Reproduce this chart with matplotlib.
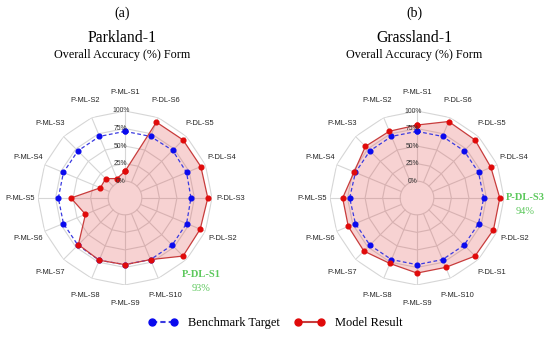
import numpy as np
import matplotlib
matplotlib.use("Agg")
import matplotlib.pyplot as plt
from matplotlib.lines import Line2D

# clockwise from the top
categories = ["P-ML-S1", "P-DL-S6", "P-DL-S5", "P-DL-S4", "P-DL-S3", "P-DL-S2",
              "P-DL-S1", "P-ML-S10", "P-ML-S9", "P-ML-S8", "P-ML-S7", "P-ML-S6",
              "P-ML-S5", "P-ML-S4", "P-ML-S3", "P-ML-S2"]

park_model = [14, 93, 93, 93, 94, 92, 93, 71, 71, 72, 70, 37, 53, 14, 15, 6]
park_bench = [71, 71, 72, 71, 70, 71, 71, 71, 71, 72, 71, 71, 71, 71, 71, 71]

grass_model = [80, 94, 93, 90, 94, 94, 93, 83, 83, 77, 83, 82, 82, 73, 80, 79]
grass_bench = [71, 71, 71, 71, 71, 71, 71, 71, 71, 71, 71, 71, 72, 71, 71, 71]

rticks = [0, 25, 50, 75, 100]

panels = [
    ("(a)", "Parkland-1", park_model, park_bench, "P-DL-S1", "93%"),
    ("(b)", "Grassland-1", grass_model, grass_bench, "P-DL-S3", "94%"),
]

SERIF = "Liberation Serif"
SANS = "Liberation Sans"
GREEN = "#5cc85c"
RED_M = "#e00a0a"
RED_L = "#c83c3c"
BLUE_M = "#0a0aee"
BLUE_L = "#3a3ae0"
GRID = "#d6d6d6"

W, H = 550, 345
fig = plt.figure(figsize=(W / 100, H / 100), dpi=100)

centers = [(125, 198), (417, 198)]
R = 87
n = len(categories)
theta = np.arange(n) * 2 * np.pi / n
tc = np.append(theta, theta[0])

for (cx, cy), (tag, name, model, bench, hl, hlval) in zip(centers, panels):
    ax = fig.add_axes([(cx - R) / W, (H - cy - R) / H, 2 * R / W, 2 * R / H],
                      projection="polar")
    ax.set_theta_zero_location("N")
    ax.set_theta_direction(-1)
    ax.set_ylim(-24, 100)   # leaves a hole in the middle
    ax.grid(False)
    ax.set_xticks([])
    ax.set_yticks([])
    for sp in ax.spines.values():
        sp.set_visible(False)
    ax.patch.set_alpha(0)

    # polygon grid
    for v in rticks[1:]:
        ax.plot(tc, [v] * (n + 1), color=GRID, lw=0.8, zorder=1)
    circ = np.linspace(0, 2 * np.pi, 200)
    ax.plot(circ, np.zeros_like(circ), color=GRID, lw=0.8, zorder=1)
    for t in theta:
        ax.plot([t, t], [0, 100], color=GRID, lw=0.8, zorder=1)

    m = np.append(model, model[0])
    b = np.append(bench, bench[0])
    ax.fill(tc, m, color="#dc3232", alpha=0.22, lw=0, zorder=2)
    ax.plot(tc, b, color=BLUE_L, lw=0.9, ls=(0, (3, 2)), zorder=3)
    ax.plot(tc, b, ls="none", marker="o", ms=3.4, color=BLUE_M, zorder=4)
    ax.plot(tc, m, color=RED_L, lw=0.9, zorder=5, clip_on=False)
    ax.plot(tc, m, ls="none", marker="o", ms=3.4, color=RED_M, zorder=6,
            clip_on=False)

    for v in rticks:
        ax.annotate(f"{v}%", xy=(0, v), xytext=(-3, 0), textcoords="offset points",
                    ha="center", va="center", fontsize=4.9, family=SANS,
                    color="#333333", zorder=7, annotation_clip=False)

    for t, lab in zip(theta, categories):
        if lab == hl:
            ax.text(t, 130, lab, ha="center", va="center", fontsize=7.6,
                    family=SERIF, weight="bold", color=GREEN, clip_on=False)
            ax.annotate(hlval, xy=(t, 130), xytext=(0, -10), textcoords="offset points",
                        ha="center", va="center", fontsize=7.4, family=SERIF,
                        color=GREEN, annotation_clip=False)
        else:
            ax.text(t, 126, lab, ha="center", va="center", fontsize=5.4,
                    family=SANS, color="#222222", clip_on=False)

    fig.text(cx / W - 0.005, 1 - 13 / H, tag, ha="center", va="center",
             fontsize=10, family=SERIF)
    fig.text(cx / W - 0.005, 1 - 38 / H, name, ha="center", va="center",
             fontsize=11.3, family=SERIF)
    fig.text(cx / W - 0.005, 1 - 55 / H, "Overall Accuracy (%) Form", ha="center",
             va="center", fontsize=8.7, family=SERIF)

handles = [
    Line2D([], [], color=BLUE_L, ls=(0, (2.5, 1.5)), lw=1.5, marker="o", ms=5,
           markerfacecolor=BLUE_M, markeredgecolor=BLUE_M),
    Line2D([], [], color=RED_L, lw=1.5, marker="o", ms=5,
           markerfacecolor=RED_M, markeredgecolor=RED_M),
]
fig.legend(handles, ["Benchmark Target", "Model Result"], loc="center",
           bbox_to_anchor=(0.5, 22 / H), ncol=2, frameon=False, numpoints=2,
           handlelength=2.4, handletextpad=0.8, columnspacing=1.2,
           prop={"family": SERIF, "size": 9})

fig.savefig("out.png", dpi=100)
